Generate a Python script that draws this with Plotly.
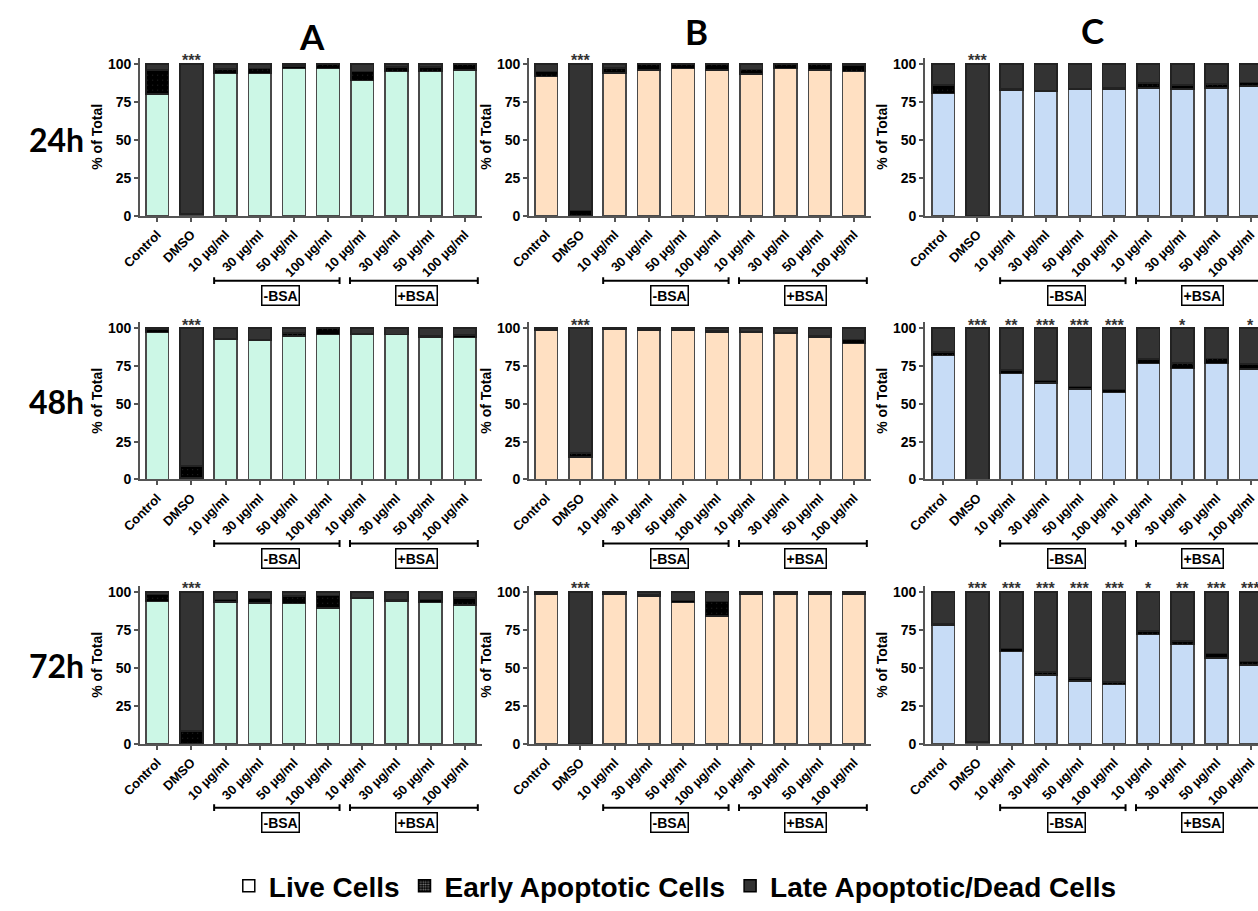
import plotly.graph_objects as go
from plotly.subplots import make_subplots

categories = ["Control", "DMSO", "10 µg/ml", "30 µg/ml", "50 µg/ml", "100 µg/ml",
              "10 µg/ml", "30 µg/ml", "50 µg/ml", "100 µg/ml"]
row_labels = ["24h", "48h", "72h"]
col_labels = ["A", "B", "C"]
legend_names = ["Live Cells", "Early Apoptotic Cells", "Late Apoptotic/Dead Cells"]
group_labels = ["-BSA", "+BSA"]

# ---- Panel A ----
live_A_24 = [80, 1, 93.5, 93.5, 97, 97, 89, 95, 95, 96]
early_A_24 = [16, 0.5, 3, 3.5, 1.5, 2.5, 6, 3, 3, 3.5]
late_A_24 = [4, 98.5, 3.5, 3, 1.5, 0.5, 5, 2, 2, 0.5]

live_A_48 = [97, 1, 92.4, 91.8, 94.8, 95.7, 96.3, 95.7, 94.2, 94]
early_A_48 = [2, 8, 0.9, 0.7, 2, 4.1, 0.3, 0.3, 0.5, 1.5]
late_A_48 = [1, 91, 6.7, 7.5, 3.2, 0.2, 3.4, 4, 5.3, 4.5]

live_A_72 = [93.5, 0.3, 93.3, 92.7, 92.4, 89.4, 95.5, 93.5, 93, 91.4]
early_A_72 = [4.8, 8.3, 1.7, 3, 4.8, 8.2, 0.8, 1.1, 1.8, 4.5]
late_A_72 = [1.7, 91.4, 5, 4.3, 2.8, 2.4, 3.7, 5.4, 5.2, 4.1]

# ---- Panel B ----
live_B_24 = [91.8, 0.3, 94, 95.8, 96.8, 96, 93.3, 97, 96, 95]
early_B_24 = [3, 3.2, 3.2, 3.8, 3, 3.8, 2.8, 2.8, 3.8, 4]
late_B_24 = [5.2, 96.5, 2.8, 0.4, 0.2, 0.2, 3.9, 0.2, 0.2, 1]

live_B_48 = [98.7, 14.7, 99.1, 98.5, 98.5, 97.6, 97.4, 96.8, 94.2, 89.8]
early_B_48 = [0.4, 2.8, 0.2, 0.3, 0.3, 0.4, 0.3, 0.2, 0.5, 2.8]
late_B_48 = [0.9, 82.5, 0.7, 1.2, 1.2, 2, 2.3, 3, 5.3, 7.4]

live_B_72 = [98.3, 0, 98.3, 97.2, 93.1, 84, 98.7, 98.3, 98.7, 98.5]
early_B_72 = [0.5, 0, 0.3, 0.6, 1.3, 9.7, 0.3, 0.3, 0.3, 0.5]
late_B_72 = [1.2, 100, 1.4, 2.2, 5.6, 6.3, 1, 1.4, 1, 1]

# ---- Panel C ----
live_C_24 = [80.3, 0, 82.7, 82, 83.1, 83.5, 84.2, 83.3, 84, 85.5]
early_C_24 = [5.6, 0, 0.8, 0.5, 0.5, 0.5, 3.2, 2.7, 2.6, 2.2]
late_C_24 = [14.1, 100, 16.5, 17.5, 16.4, 16, 12.6, 14, 13.4, 12.3]

live_C_48 = [82, 0, 70, 63.6, 59.7, 57.5, 76.8, 73.5, 76.8, 72.9]
early_C_48 = [2.2, 0, 2.2, 1.7, 1.7, 1.9, 2.8, 3.5, 3.2, 3.5]
late_C_48 = [15.8, 100, 27.8, 34.7, 38.6, 40.6, 20.4, 23, 20, 23.6]

live_C_72 = [78.2, 1.1, 60.9, 45.4, 41.5, 39.1, 71.9, 65.4, 56.6, 51.8]
early_C_72 = [0.6, 0.2, 2, 1.9, 1.7, 1.7, 2.2, 2.2, 2.8, 2.4]
late_C_72 = [21.2, 98.7, 37.1, 52.7, 56.8, 59.2, 25.9, 32.4, 40.6, 45.8]

# significance stars
stars_default = ["", "***", "", "", "", "", "", "", "", ""]
stars_C_48 = ["", "***", "**", "***", "***", "***", "", "*", "", "*"]
stars_C_72 = ["", "***", "***", "***", "***", "***", "*", "**", "***", "***"]

panels = [
    [(live_A_24, early_A_24, late_A_24, stars_default),
     (live_B_24, early_B_24, late_B_24, stars_default),
     (live_C_24, early_C_24, late_C_24, stars_default)],
    [(live_A_48, early_A_48, late_A_48, stars_default),
     (live_B_48, early_B_48, late_B_48, stars_default),
     (live_C_48, early_C_48, late_C_48, stars_C_48)],
    [(live_A_72, early_A_72, late_A_72, stars_default),
     (live_B_72, early_B_72, late_B_72, stars_default),
     (live_C_72, early_C_72, late_C_72, stars_C_72)],
]

live_colors = ["#CCF7E6", "#FFE0C2", "#C7DCF6"]
late_color = "#333333"
early_color = "#000000"
outline = "#4a4a4a"

W, H = 1258, 911
col_px = [(123, 470), (518, 865), (920, 1258)]
x_ranges = [[-0.5, 9.5], [-0.5, 9.5], [-0.53, 9.21]]
row_px = [(56.5, 217), (324.8, 484.3), (592.2, 752.7)]
bracket_py = [282.7, 549.3, 817.3]
label_py = [297.5, 565, 832.5]
rowlab_py = [139.5, 405, 673.3]
coltitle_px = [(298, 34.5), (688, 29), (1090, 28.3)]

FONT = "Liberation Sans, Arial, sans-serif"
TITLE_FONT = "Lato, sans-serif"

fig = make_subplots(rows=3, cols=3)
xs = list(range(len(categories)))

annotations = []
shapes = []

for r in range(3):
    for c in range(3):
        live, early, late, stars = panels[r][c]
        idx = r * 3 + c + 1
        fig.add_trace(go.Bar(x=xs, y=live, marker=dict(color=live_colors[c], line=dict(color=outline, width=1.5)),
                             showlegend=False, name=legend_names[0]), row=r + 1, col=c + 1)
        fig.add_trace(go.Bar(x=xs, y=early, marker=dict(color=early_color, line=dict(color="#222", width=1.5),
                                                       pattern=dict(shape=".", fgcolor="#555", bgcolor="black",
                                                                    size=5, solidity=0.04)),
                             showlegend=False, name=legend_names[1]), row=r + 1, col=c + 1)
        fig.add_trace(go.Bar(x=xs, y=late, marker=dict(color=late_color, line=dict(color="#222", width=1.5)),
                             showlegend=False, name=legend_names[2]), row=r + 1, col=c + 1)
        xa = "xaxis" if idx == 1 else f"xaxis{idx}"
        ya = "yaxis" if idx == 1 else f"yaxis{idx}"
        xref = "x" if idx == 1 else f"x{idx}"
        yref = "y" if idx == 1 else f"y{idx}"
        fig.layout[xa].update(
            domain=[col_px[c][0] / W, col_px[c][1] / W], range=x_ranges[c],
            tickvals=xs, ticktext=categories, tickangle=-45,
            ticks="outside", ticklen=4, tickwidth=1.5, tickcolor="#555",
            showline=True, linecolor="#555", linewidth=2, showgrid=False, zeroline=False,
            tickfont=dict(family=FONT, size=13, color="black", weight="bold"),
        )
        fig.layout[ya].update(
            domain=[1 - row_px[r][1] / H, 1 - row_px[r][0] / H], range=[0, 104],
            tickvals=[0, 25, 50, 75, 100], ticks="outside", ticklen=4, tickwidth=1.5, tickcolor="#555",
            showline=True, linecolor="#555", linewidth=2, showgrid=False, zeroline=False,
            tickfont=dict(family=FONT, size=14, color="black", weight="bold"),
            title=dict(text="% of Total", font=dict(family=FONT, size=14, color="black", weight="bold"), standoff=2),
        )
        # stars
        for i, s in enumerate(stars):
            if s:
                annotations.append(dict(x=xs[i], y=100, xref=xref, yref=yref, text=s, showarrow=False,
                                        yanchor="middle", yshift=3,
                                        font=dict(family=FONT, size=16, color="#333", weight="bold")))
        # brackets
        by = 1 - bracket_py[r] / H
        cap = 3.5 / H
        ly = 1 - label_py[r] / H
        for (x0, x1), gl, lx in zip([(1.665, 5.335), (5.64, 9.38)], group_labels, [3.6, 7.6]):
            shapes.append(dict(type="line", xref=xref, yref="paper", x0=x0, x1=x1, y0=by, y1=by,
                               line=dict(color="black", width=2)))
            for xx in (x0, x1):
                shapes.append(dict(type="line", xref=xref, yref="paper", x0=xx, x1=xx, y0=by - cap, y1=by + cap,
                                   line=dict(color="black", width=2)))
            annotations.append(dict(x=lx, y=ly, xref=xref, yref="paper", text=gl, showarrow=False,
                                    xanchor="center", yanchor="middle", bordercolor="black", borderwidth=1.5,
                                    borderpad=1, font=dict(family=FONT, size=14, color="black", weight="bold")))

# row labels
for r, lab in enumerate(row_labels):
    annotations.append(dict(x=38 / W, y=1 - rowlab_py[r] / H, xref="paper", yref="paper", text=lab,
                            showarrow=False, xanchor="center", yanchor="middle",
                            font=dict(family=TITLE_FONT, size=32, color="black", weight="bold")))
# column titles
for c, lab in enumerate(col_labels):
    px, py = coltitle_px[c]
    annotations.append(dict(x=px / W, y=1 - py / H, xref="paper", yref="paper", text=lab,
                            showarrow=False, xanchor="center", yanchor="middle",
                            font=dict(family=TITLE_FONT, size=35, color="black", weight="bold")))

# legend entries
fig.add_trace(go.Bar(x=[None], y=[None], name=legend_names[0],
                     marker=dict(color="white", line=dict(color="black", width=1.5))), row=1, col=1)
fig.add_trace(go.Bar(x=[None], y=[None], name=legend_names[1],
                     marker=dict(color="black", line=dict(color="black", width=1.5),
                                 pattern=dict(shape=".", fgcolor="white", bgcolor="black", size=3, solidity=0.4))),
              row=1, col=1)
fig.add_trace(go.Bar(x=[None], y=[None], name=legend_names[2],
                     marker=dict(color=late_color, line=dict(color="black", width=1.5))), row=1, col=1)

fig.update_layout(
    width=W, height=H, margin=dict(l=0, r=0, t=0, b=0),
    barmode="stack", bargap=0.333,
    plot_bgcolor="white", paper_bgcolor="white",
    annotations=annotations, shapes=shapes,
    legend=dict(orientation="h", x=213 / W, xanchor="left", y=1 - 897 / H, yanchor="middle",
                traceorder="normal", font=dict(family=FONT, size=28, color="black", weight="bold"),
                bgcolor="rgba(0,0,0,0)"),
)

fig.write_html("out.html", config={"displayModeBar": False},
               post_script="document.body.style.margin='0';")
